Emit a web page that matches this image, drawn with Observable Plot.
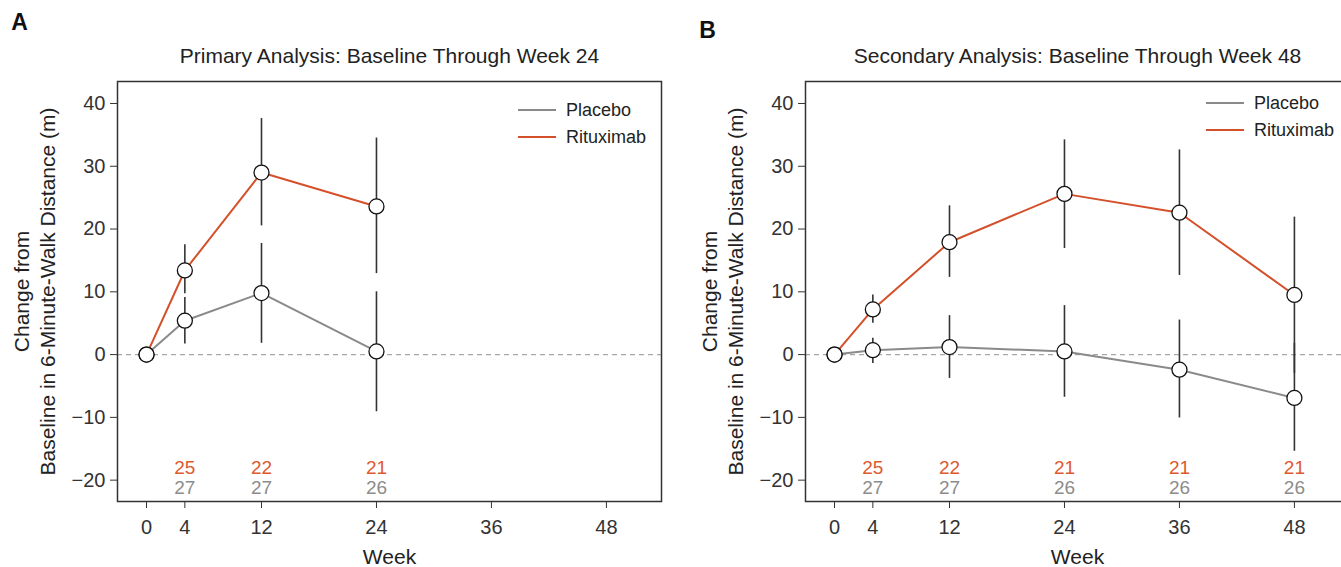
<!DOCTYPE html>
<html>
<head>
<meta charset="utf-8">
<script src="https://cdn.jsdelivr.net/npm/d3@7"></script>
<script src="https://cdn.jsdelivr.net/npm/@observablehq/plot@0.6"></script>
<style>
  html, body { margin: 0; padding: 0; background: #fff; }
  body { width: 1341px; height: 567px; overflow: hidden; position: relative; font-family: "Liberation Sans", Arial, Helvetica, sans-serif; }
  .panel { position: absolute; top: 0; width: 670px; height: 567px; }
  .panel svg { max-width: none !important; width: 670px; height: 567px; }
  .legend { position: absolute; font-size: 18px; color: #222; }
  .legend .item { position: absolute; white-space: nowrap; height: 20px; line-height: 20px; }
  .legend .sw { position: absolute; left: 0; top: 9px; width: 38px; height: 0; border-top: 2px solid; }
  .legend .lb { position: absolute; left: 48px; top: 0; }
</style>
</head>
<body>
<div id="A" class="panel" style="left:0px"></div>
<div id="B" class="panel" style="left:688px"></div>
<script>
// ---- data ----
const xTicks = [0, 4, 12, 24, 36, 48];
const yTicks = [-20, -10, 0, 10, 20, 30, 40];

const weeksA = [0, 4, 12, 24];
const placeboA = [0, 5.4, 9.8, 0.5];
const placeboA_lo = [null, 1.7, 1.8, -9.1];
const placeboA_hi = [null, 9.1, 17.7, 10.0];
const rituxA = [0, 13.4, 29.0, 23.6];
const rituxA_lo = [null, 9.7, 20.5, 12.9];
const rituxA_hi = [null, 17.5, 37.6, 34.5];
const nWeeksA = [4, 12, 24];
const nRituxA = [25, 22, 21];
const nPlaceboA = [27, 27, 26];

const weeksB = [0, 4, 12, 24, 36, 48];
const placeboB = [0, 0.7, 1.2, 0.5, -2.4, -6.9];
const placeboB_lo = [null, -1.4, -3.8, -6.8, -10.1, -15.4];
const placeboB_hi = [null, 2.6, 6.2, 7.8, 5.5, 1.8];
const rituxB = [0, 7.2, 17.9, 25.6, 22.6, 9.5];
const rituxB_lo = [null, 5.0, 12.3, 16.9, 12.6, -3.0];
const rituxB_hi = [null, 9.5, 23.7, 34.2, 32.6, 21.9];
const nWeeksB = [4, 12, 24, 36, 48];
const nRituxB = [25, 22, 21, 21, 21];
const nPlaceboB = [27, 27, 26, 26, 26];

const seriesNames = ["Placebo", "Rituximab"];
const titleA = "Primary Analysis: Baseline Through Week 24";
const titleB = "Secondary Analysis: Baseline Through Week 48";
const yLabel1 = "Change from";
const yLabel2 = "Baseline in 6-Minute-Walk Distance (m)";
const xLabel = "Week";

// ---- style ----
const RED = "#d4502a";
const GRAY = "#8a8a8a";
const RED_TXT = "#dc5a2e";
const GRAY_TXT = "#8c8c8c";
const INK = "#333";
const FONT = "'Liberation Sans', Arial, Helvetica, sans-serif";

function rows(weeks, vals, lo, hi, name) {
  return weeks.map((w, i) => ({week: w, value: vals[i], lo: lo[i], hi: hi[i], series: name}));
}
function nrows(weeks, ns) {
  return weeks.map((w, i) => ({week: w, n: String(ns[i])}));
}

function panel(opts) {
  const {placebo, ritux, nR, nP, title, letter, letterDy} = opts;
  const all = placebo.concat(ritux);
  const bars = all.filter(d => d.lo != null);
  return Plot.plot({
    width: 670,
    height: 567,
    marginLeft: 117,
    marginRight: 9,
    marginTop: 81,
    marginBottom: 66,
    style: {fontFamily: FONT, fontSize: "20px", color: INK, background: "transparent", overflow: "visible"},
    x: {domain: [-3.03, 53.75]},
    y: {domain: [-23.4, 43.5]},
    marks: [
      Plot.ruleY([0], {stroke: "#a8a8a8", strokeWidth: 1.2, strokeDasharray: "5,4"}),
      Plot.ruleX(bars, {x: "week", y1: "lo", y2: "hi", stroke: INK, strokeWidth: 1.6}),
      Plot.line(placebo, {x: "week", y: "value", stroke: GRAY, strokeWidth: 2}),
      Plot.line(ritux, {x: "week", y: "value", stroke: RED, strokeWidth: 2}),
      Plot.dot(all, {x: "week", y: "value", r: 7.5, fill: "white", stroke: "#111", strokeWidth: 1.3}),
      Plot.text(nR, {x: "week", y: () => -18.0, text: "n", fill: RED_TXT, fontSize: 19}),
      Plot.text(nP, {x: "week", y: () => -21.2, text: "n", fill: GRAY_TXT, fontSize: 19}),
      Plot.frame({stroke: INK, strokeWidth: 1.5}),
      Plot.axisX({ticks: xTicks, tickSize: 7, tickPadding: 11, label: null, stroke: INK, fontSize: 20, tickFormat: d => String(d)}),
      Plot.axisY({ticks: yTicks, tickSize: 7, tickPadding: 5, label: null, stroke: INK, fontSize: 20, tickFormat: d => d < 0 ? "\u2212" + Math.abs(d) : String(d)}),
      Plot.text([xLabel], {frameAnchor: "bottom", text: d => d, dy: 56, lineAnchor: "middle", textAnchor: "middle", fontSize: 21, fill: "#222"}),
      Plot.text([yLabel1], {frameAnchor: "left", text: d => d, rotate: -90, dx: -95, lineAnchor: "middle", textAnchor: "middle", fontSize: 21, fill: "#222"}),
      Plot.text([yLabel2], {frameAnchor: "left", text: d => d, rotate: -90, dx: -69, lineAnchor: "middle", textAnchor: "middle", fontSize: 21, fill: "#222"}),
      Plot.text([title], {frameAnchor: "top", text: d => d, dy: -25, lineAnchor: "middle", textAnchor: "middle", fontSize: 21, fill: "#222"}),
      Plot.text([letter], {frameAnchor: "top-left", text: d => d, dx: -98, dy: letterDy, lineAnchor: "middle", textAnchor: "middle", fontSize: 23, fontWeight: "bold", fill: "#111"})
    ]
  });
}

const plotA = panel({
  placebo: rows(weeksA, placeboA, placeboA_lo, placeboA_hi, seriesNames[0]),
  ritux: rows(weeksA, rituxA, rituxA_lo, rituxA_hi, seriesNames[1]),
  nR: nrows(nWeeksA, nRituxA), nP: nrows(nWeeksA, nPlaceboA),
  title: titleA, letter: "A", letterDy: -59
});
const plotB = panel({
  placebo: rows(weeksB, placeboB, placeboB_lo, placeboB_hi, seriesNames[0]),
  ritux: rows(weeksB, rituxB, rituxB_lo, rituxB_hi, seriesNames[1]),
  nR: nrows(nWeeksB, nRituxB), nP: nrows(nWeeksB, nPlaceboB),
  title: titleB, letter: "B", letterDy: -51
});
document.getElementById("A").appendChild(plotA);
document.getElementById("B").appendChild(plotB);

// ---- legends ----
function legend(left, top) {
  const lg = document.createElement("div");
  lg.className = "legend";
  lg.style.left = left + "px";
  lg.style.top = top + "px";
  const colors = [GRAY, RED];
  seriesNames.forEach((name, i) => {
    const it = document.createElement("div");
    it.className = "item";
    it.style.top = (i * 27) + "px";
    const sw = document.createElement("span");
    sw.className = "sw";
    sw.style.borderColor = colors[i];
    const lb = document.createElement("span");
    lb.className = "lb";
    lb.textContent = name;
    it.appendChild(sw); it.appendChild(lb);
    lg.appendChild(it);
  });
  document.body.appendChild(lg);
}
legend(518, 100);
legend(1206, 93);
</script>
</body>
</html>
